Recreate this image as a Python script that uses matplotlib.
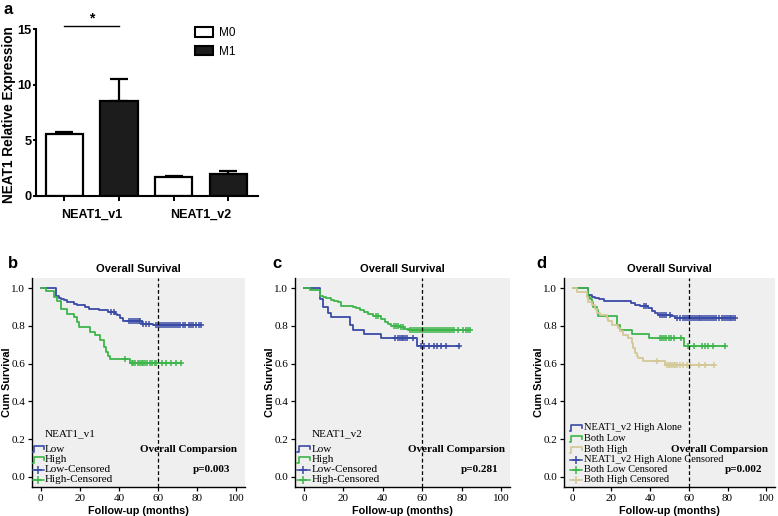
import numpy as np
import matplotlib
matplotlib.use("Agg")
import matplotlib.pyplot as plt
from matplotlib.patches import Patch

SANS = ["Liberation Sans", "DejaVu Sans"]
SERIF = ["Liberation Serif", "DejaVu Serif"]

# ---------------- data: panel a ----------------
groups = ["NEAT1_v1", "NEAT1_v2"]
m0_mean = [5.55, 1.68]
m0_err = [0.19, 0.12]
m1_mean = [8.55, 1.95]
m1_err = [1.95, 0.32]

# ---------------- data: panel b (NEAT1_v1) ----------------
b_low_t = [0, 7.6, 9.3, 10.2, 11.9, 13.6, 17, 18.6, 22.8, 24.5, 29.6, 34.6, 38, 38.9, 40.6, 42.3, 51.6, 57.5]
b_low_s = [1.0, 0.958, 0.949, 0.944, 0.935, 0.926, 0.917, 0.908, 0.899, 0.891, 0.882, 0.873, 0.864, 0.855, 0.841, 0.825, 0.811, 0.803]
b_low_c = [36, 37.5, 45, 46, 47, 48, 49, 50, 51, 52.5, 54, 55.5, 59, 60, 61, 62, 63, 64, 65, 66, 67, 68,
           69, 70, 71, 73, 74, 76, 77, 78, 79.5, 81, 82]
b_high_t = [0, 2.5, 6.8, 8.5, 10.2, 13.5, 16.9, 18.6, 19.5, 25.4, 27.9, 30.5, 32.1, 32.6, 33.5, 34.4, 35.5, 45.5]
b_high_s = [1.0, 0.982, 0.952, 0.929, 0.891, 0.864, 0.847, 0.82, 0.794, 0.767, 0.75, 0.723, 0.714, 0.688,
            0.661, 0.64, 0.626, 0.605]
b_high_c = [43, 46.5, 47.4, 48.2, 49.9, 50.8, 51.6, 52.5, 53.3, 54.1, 55.8, 56.7, 58.4, 59.2, 61.8, 64.3,
            66.8, 69.4, 72]

# ---------------- data: panel c (NEAT1_v2) ----------------
c_low_t = [0, 8, 9.6, 12.2, 13.9, 23.2, 24.8, 30.7, 39.3, 57.4]
c_low_s = [1.0, 0.94, 0.898, 0.87, 0.845, 0.805, 0.778, 0.755, 0.733, 0.695]
c_low_c = [46, 47.5, 48.5, 49.5, 50.5, 51.5, 52.5, 55.5, 59.5, 61, 63.5, 66, 67.5, 69.5, 72, 78.5]
c_high_t = [0, 2.9, 8, 9.6, 11.3, 13.9, 15.5, 17.2, 18.9, 19.8, 24.8, 26.5, 28.2, 30.7, 32.4, 34.9, 39.2,
            40.9, 42.6, 44.3, 48.5, 51, 53.5]
c_high_s = [1.0, 0.991, 0.956, 0.951, 0.946, 0.939, 0.933, 0.924, 0.907, 0.903, 0.898, 0.893, 0.886, 0.875,
            0.863, 0.854, 0.836, 0.819, 0.81, 0.801, 0.792, 0.784, 0.78]
c_high_c = [36.6, 37.5, 45.5, 46.5, 47.5, 49, 50, 54, 55, 56, 57, 58, 59, 60, 61, 62, 63, 64, 65, 66, 67,
            68, 69, 70, 71, 72, 73, 74, 75, 76, 78, 80.5, 82, 83, 84]

# ---------------- data: panel d (combined) ----------------
d_alone_t = [0, 8.1, 10, 11.5, 13.5, 16, 30, 32, 35, 39, 40.8, 42.5, 44.3, 51, 53]
d_alone_s = [1.0, 0.965, 0.955, 0.948, 0.94, 0.93, 0.92, 0.91, 0.905, 0.893, 0.876, 0.867, 0.858, 0.85, 0.842]
d_alone_c = [37, 38, 45, 46, 47, 48, 50, 54, 55.5, 57, 58, 59, 60, 61, 62, 63, 64, 65, 66, 67, 68, 69,
             70, 71, 72, 73, 74, 75.5, 77, 78, 79, 80, 81, 82, 83, 84]
d_low_t = [0, 8.1, 9.0, 9.8, 10.7, 12.4, 13.3, 22.7, 24.5, 30.5, 39.3, 57.3]
d_low_s = [1.0, 0.955, 0.94, 0.928, 0.902, 0.885, 0.85, 0.806, 0.78, 0.755, 0.735, 0.694]
d_low_c = [45, 46, 47, 48, 49.5, 51, 52.5, 56, 59.8, 62.4, 66.7, 68.4, 70, 72.7, 78.8]
d_high_t = [0, 2, 7.2, 8.1, 9.8, 11.5, 12.4, 14.1, 17.6, 18.4, 20.1, 23.6, 24.5, 26.2, 28.8, 30.5, 31.4,
            32.2, 33.1, 33.9, 36.5, 47.5]
d_high_s = [1.0, 0.977, 0.952, 0.928, 0.911, 0.888, 0.867, 0.859, 0.841, 0.823, 0.806, 0.788, 0.771, 0.753,
            0.736, 0.709, 0.683, 0.657, 0.639, 0.63, 0.615, 0.59]
d_high_c = [43.4, 48.6, 49.5, 50.3, 51.2, 52.1, 53, 53.8, 55.5, 57.2, 59, 60.7, 65, 68.5, 72.8]

BLUE = "#3a4ba6"
GREEN = "#3db54a"
TAN = "#d3c894"
BG = "#efefef"

W, H = 778, 516
fig = plt.figure(figsize=(W / 100, H / 100), dpi=100)


def fx(px):
    return px / W


def fy(py):
    return 1 - py / H


# ================= panel a =================
axa = fig.add_axes([fx(36), fy(196), fx(222), 167 / H])
gx = np.arange(len(groups))
off = 0.25
bw = 0.34
xm0 = gx - off
xm1 = gx + off
axa.bar(xm0, m0_mean, bw, color="white", edgecolor="black", linewidth=1.6, label="M0", zorder=2)
axa.bar(xm1, m1_mean, bw, color="#1c1c1c", edgecolor="black", linewidth=1.6, label="M1", zorder=2)
axa.errorbar(xm0, m0_mean, yerr=[np.zeros(len(m0_err)), m0_err], fmt="none", ecolor="black",
             elinewidth=1.6, capsize=6.8, capthick=1.6, zorder=1)
axa.errorbar(xm1, m1_mean, yerr=[np.zeros(len(m1_err)), m1_err], fmt="none", ecolor="black",
             elinewidth=1.6, capsize=6.8, capthick=1.6, zorder=1)
axa.set_xlim(-0.507, 1.52)
axa.set_ylim(0, 15)
axa.set_yticks([0, 5, 10, 15])
axa.set_xticks(np.concatenate([xm0, xm1]))
axa.set_xticklabels([])
axa.set_xticks(gx, minor=True)
axa.set_xticklabels(groups, minor=True, fontfamily=SANS, fontweight="bold", fontsize=9)
axa.tick_params(axis="x", which="minor", length=0, pad=9)
axa.tick_params(axis="x", which="major", length=3.5, width=1.4, direction="out")
axa.tick_params(axis="y", length=2.3, width=1.4, direction="out", pad=1)
for lab in axa.get_yticklabels():
    lab.set_fontfamily(SANS)
    lab.set_fontweight("bold")
    lab.set_fontsize(9.3)
for s in ["top", "right"]:
    axa.spines[s].set_visible(False)
for s in ["left", "bottom"]:
    axa.spines[s].set_linewidth(1.5)
axa.set_ylabel("NEAT1 Relative Expression", fontfamily=SANS, fontweight="bold", fontsize=9.8)
axa.yaxis.set_label_coords(-20 / 222, 0.49)
# significance bracket
axa.plot([xm0[0], xm1[0]], [15.28, 15.28], color="black", lw=1.0, clip_on=False)
axa.text((xm0[0] + xm1[0]) / 2, 15.35, "*", ha="center", va="bottom", fontsize=10,
         fontweight="bold", fontfamily=SANS)
leg = axa.legend(handles=[Patch(facecolor="white", edgecolor="black", linewidth=1.5, label="M0"),
                          Patch(facecolor="#1c1c1c", edgecolor="black", linewidth=1.5, label="M1")],
                 loc="upper left", bbox_to_anchor=((195 - 36) / 222 - 0.05, 1.075), frameon=False,
                 prop={"family": SANS, "size": 8.5}, handlelength=1.55, handleheight=0.85,
                 handletextpad=0.5, labelspacing=0.55)
fig.text(fx(3), fy(10), "a", fontfamily=SANS, fontweight="bold", fontsize=12, va="center", ha="left")

# ================= KM panels =================


def surv_at(t, times, surv):
    idx = np.searchsorted(np.asarray(times), np.asarray(t), side="right") - 1
    return np.asarray(surv)[idx]


def draw_km(ax, times, surv, cens, color):
    end = max(max(cens), times[-1])
    tt = list(times) + [end]
    ss = list(surv) + [surv[-1]]
    ax.step(tt, ss, where="post", color=color, lw=1.3, zorder=3)
    ax.plot(cens, surv_at(cens, times, surv), linestyle="none", marker="+", color=color,
            markersize=4.5, markeredgewidth=1.1, zorder=4)


def setup_km(ax, letter, lpx, lpy):
    ax.set_facecolor(BG)
    ax.set_xlim(-4.5, 104.5)
    ax.set_ylim(-0.053, 1.053)
    ax.set_xticks(np.arange(0, 101, 20))
    ax.set_yticks(np.arange(0, 1.01, 0.2))
    ax.set_yticklabels(["%.1f" % v for v in np.arange(0, 1.01, 0.2)])
    for s in ["top", "right"]:
        ax.spines[s].set_visible(False)
    for s in ["left", "bottom"]:
        ax.spines[s].set_linewidth(1.0)
    ax.tick_params(length=3, width=0.9, direction="out", pad=2, labelsize=8)
    for lab in ax.get_xticklabels() + ax.get_yticklabels():
        lab.set_fontfamily(SERIF)
    ax.axvline(60, color="black", lw=0.9, ls=(0, (3, 2)), zorder=5)
    ax.set_title("Overall Survival", fontfamily=SANS, fontweight="bold", fontsize=8, pad=4)
    ax.set_xlabel("Follow-up (months)", fontfamily=SANS, fontweight="bold", fontsize=7.8, labelpad=2)
    ax.set_ylabel("Cum Survival", fontfamily=SANS, fontweight="bold", fontsize=7.8)
    fig.text(fx(lpx), fy(lpy), letter, fontfamily=SANS, fontweight="bold", fontsize=12,
             va="center", ha="left")


def legend_km(ax, axl, axw, axb, axh, entries, title=None, title_py=None, hx0=None, hx1=None, tx=None,
              fs=8):
    def afx(px):
        return (px - axl) / axw

    def afy(py):
        return (axb - py) / axh

    if title is not None:
        ax.text(afx(tx), afy(title_py), title, transform=ax.transAxes, fontfamily=SERIF, fontsize=fs,
                va="center", ha="left", zorder=6)
    for (label, color, kind, py) in entries:
        yc = afy(py)
        x0, x1 = afx(hx0), afx(hx1)
        dy = 4.5 / axh
        if kind == "step":
            xs = [x0, x0 + 0.12 * (x1 - x0), x0 + 0.12 * (x1 - x0), x1, x1]
            ys = [yc - dy * 0.7, yc - dy * 0.7, yc + dy * 0.6, yc + dy * 0.6, yc - dy * 0.1]
            ax.plot(xs, ys, transform=ax.transAxes, color=color, lw=1.2, clip_on=False, zorder=6)
        else:
            ax.plot([x0, x1], [yc, yc], transform=ax.transAxes, color=color, lw=1.1, clip_on=False, zorder=6)
            ax.plot([(x0 + x1) / 2], [yc], transform=ax.transAxes, color=color, marker="+",
                    markersize=5.5, markeredgewidth=1.1, clip_on=False, zorder=6)
        ax.text(afx(tx), yc, label, transform=ax.transAxes, fontfamily=SERIF, fontsize=fs,
                va="center", ha="left", zorder=6)


def stats_km(ax, axl, axw, axb, axh, cx1, cx2, ptxt):
    ax.text((cx1 - axl) / axw, (axb - 450) / axh, "Overall Comparsion", transform=ax.transAxes,
            fontfamily=SERIF, fontweight="bold", fontsize=8, ha="center", va="center", zorder=6)
    ax.text((cx2 - axl) / axw, (axb - 470) / axh, ptxt, transform=ax.transAxes,
            fontfamily=SERIF, fontweight="bold", fontsize=8, ha="center", va="center", zorder=6)


TOP, BOT = 278, 487
AH = BOT - TOP

# panel b
bl, bwid = 32, 213
axb = fig.add_axes([fx(bl), fy(BOT), bwid / W, AH / H])
draw_km(axb, b_low_t, b_low_s, b_low_c, BLUE)
draw_km(axb, b_high_t, b_high_s, b_high_c, GREEN)
setup_km(axb, "b", 8, 263)
axb.yaxis.set_label_coords(-20 / bwid, 0.5)
legend_km(axb, bl, bwid, BOT, AH,
          [("Low", BLUE, "step", 449), ("High", GREEN, "step", 459.5),
           ("Low-Censored", BLUE, "cens", 470), ("High-Censored", GREEN, "cens", 480)],
          title="NEAT1_v1", title_py=434, hx0=32.5, hx1=43.5, tx=45)
stats_km(axb, bl, bwid, BOT, AH, 188, 211.5, "p=0.003")

# panel c
cl, cwid = 295, 215
axc = fig.add_axes([fx(cl), fy(BOT), cwid / W, AH / H])
draw_km(axc, c_low_t, c_low_s, c_low_c, BLUE)
draw_km(axc, c_high_t, c_high_s, c_high_c, GREEN)
setup_km(axc, "c", 272, 263)
axc.yaxis.set_label_coords(-20 / cwid, 0.5)
legend_km(axc, cl, cwid, BOT, AH,
          [("Low", BLUE, "step", 449), ("High", GREEN, "step", 459.5),
           ("Low-Censored", BLUE, "cens", 470), ("High-Censored", GREEN, "cens", 480)],
          title="NEAT1_v2", title_py=434, hx0=297, hx1=309.5, tx=311.5)
stats_km(axc, cl, cwid, BOT, AH, 457, 479.5, "p=0.281")

# panel d
dl, dwid = 564, 211
axd = fig.add_axes([fx(dl), fy(BOT), dwid / W, AH / H])
draw_km(axd, d_alone_t, d_alone_s, d_alone_c, BLUE)
draw_km(axd, d_low_t, d_low_s, d_low_c, GREEN)
draw_km(axd, d_high_t, d_high_s, d_high_c, TAN)
setup_km(axd, "d", 536, 263)
axd.yaxis.set_label_coords(-19.5 / dwid, 0.5)
legend_km(axd, dl, dwid, BOT, AH,
          [("NEAT1_v2 High Alone", BLUE, "step", 427.5), ("Both Low", GREEN, "step", 438.5),
           ("Both High", TAN, "step", 449.5), ("NEAT1_v2 High Alone Censored", BLUE, "cens", 460),
           ("Both Low Censored", GREEN, "cens", 470), ("Both High Censored", TAN, "cens", 480)],
          hx0=570, hx1=582, tx=584, fs=7.5)
stats_km(axd, dl, dwid, BOT, AH, 720, 743.7, "p=0.002")

fig.savefig("out.png", dpi=100)
